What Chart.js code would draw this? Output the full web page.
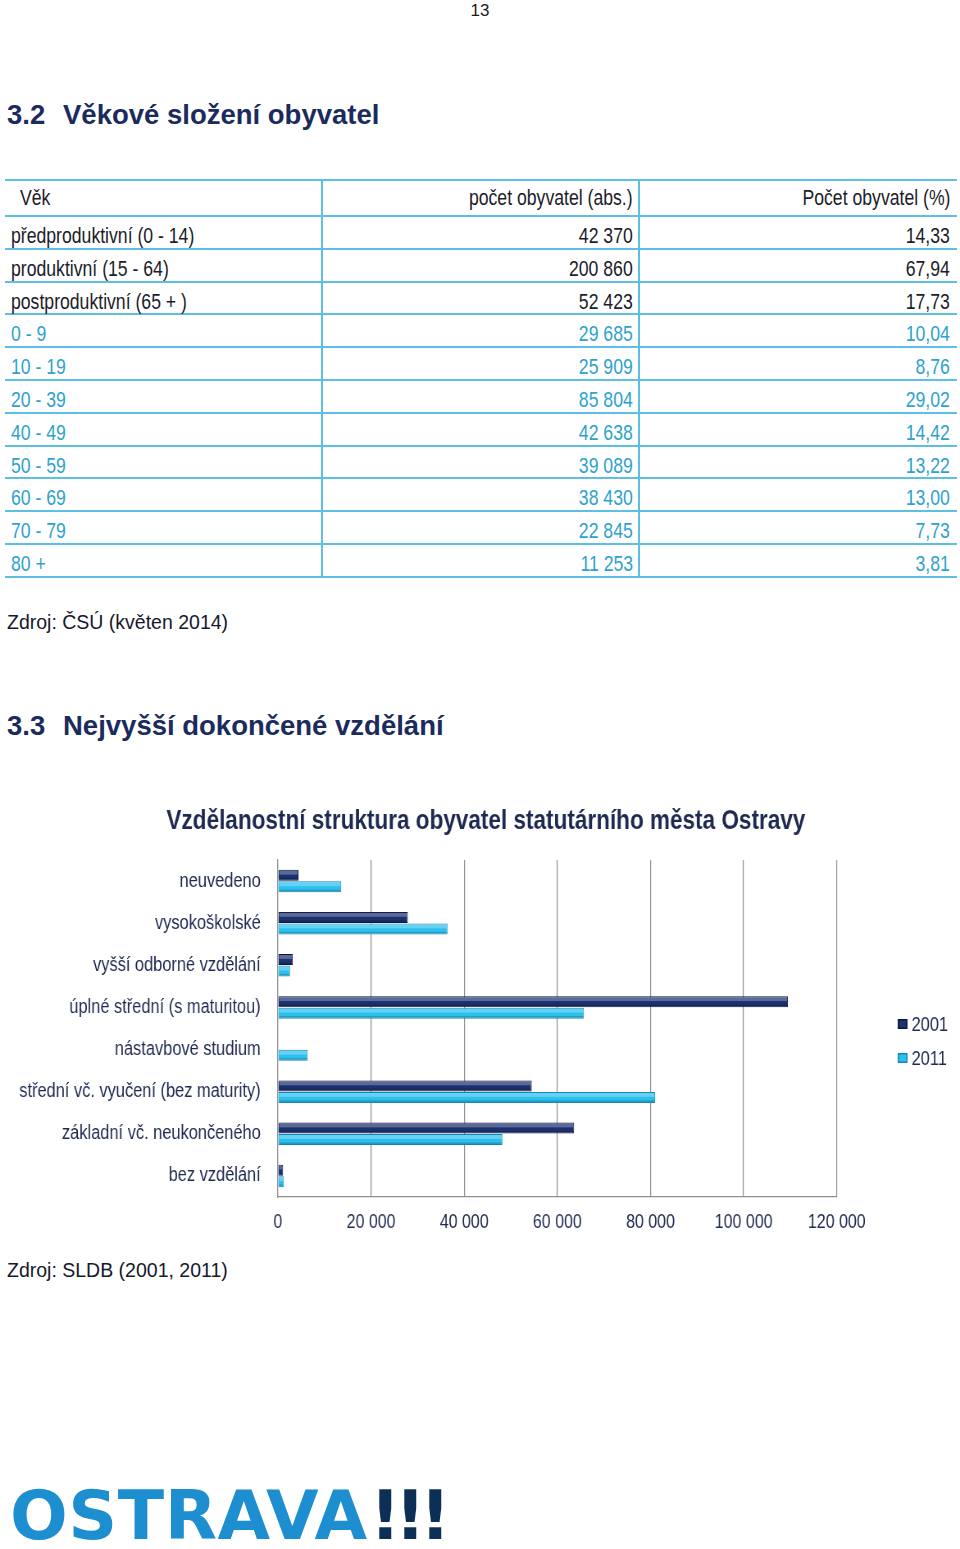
<!DOCTYPE html>
<html>
<head>
<meta charset="utf-8">
<script src="https://cdn.jsdelivr.net/npm/chart.js@4/dist/chart.umd.min.js"></script>
<style>
  html, body { margin:0; padding:0; background:#fff; }
  body { width:960px; height:1549px; position:relative; overflow:hidden; font-family:"Liberation Sans", Arial, sans-serif; }
  .abs { position:absolute; white-space:pre; }
  .pg { left:0; width:960px; top:0; text-align:center; font-size:17px; color:#1a1a1a; }
  .h { font-weight:bold; font-size:27.5px; color:#1b2b5e; line-height:32px; }
  .src { font-size:19.5px; color:#16182b; left:7px; line-height:24px; }
  .hl { position:absolute; left:5px; width:952px; height:2px; background:#5dbfe4; }
  .vl { position:absolute; top:180px; width:2px; height:398px; background:#5dbfe4; }
  .cell { position:absolute; font-size:21.5px; line-height:24px; white-space:pre; }
  .cl { transform:scaleX(0.82); transform-origin:left center; }
  .cr { transform:scaleX(0.82); transform-origin:right center; text-align:right; }
  #wrap { position:absolute; left:0; top:790px; width:1171px; height:460px; transform:scaleX(0.8198); transform-origin:0 0; }
  .logo { left:10px; top:1482px; font-family:"DejaVu Sans",sans-serif; font-weight:bold; font-size:68px; line-height:68px; letter-spacing:0.5px; color:#1d8fd0; }
  .logo span { color:#0c2f55; letter-spacing:-6px; margin-left:2px; }
</style>
</head>
<body>
<div class="abs pg" style="top:1px;">13</div>
<div class="abs h" style="top:99px; left:7px;">3.2</div>
<div class="abs h" style="top:99px; left:63px;">Věkové složení obyvatel</div>

<div id="tbl"></div>

<div class="abs src" style="top:610px;">Zdroj: ČSÚ (květen 2014)</div>
<div class="abs h" style="top:710px; left:7px;">3.3</div>
<div class="abs h" style="top:710px; left:63px;">Nejvyšší dokončené vzdělání</div>

<div id="wrap"><canvas id="c" width="1171" height="460"></canvas></div>

<div class="abs src" style="top:1258px;">Zdroj: SLDB (2001, 2011)</div>
<div class="abs logo">OSTRAVA<span>!!!</span></div>

<script>
// ---- table data ----
const tableHeader = ["Věk", "počet obyvatel (abs.)", "Počet obyvatel (%)"];
const ageGroups = ["předproduktivní (0 - 14)", "produktivní (15 - 64)", "postproduktivní (65 + )",
  "0 - 9", "10 - 19", "20 - 39", "40 - 49", "50 - 59", "60 - 69", "70 - 79", "80 +"];
const ageAbs = ["42 370", "200 860", "52 423", "29 685", "25 909", "85 804", "42 638", "39 089", "38 430", "22 845", "11 253"];
const agePct = ["14,33", "67,94", "17,73", "10,04", "8,76", "29,02", "14,42", "13,22", "13,00", "7,73", "3,81"];

// ---- chart data ----
const eduCategories = ["neuvedeno", "vysokoškolské", "vyšší odborné vzdělání", "úplné střední (s maturitou)",
  "nástavbové studium", "střední vč. vyučení (bez maturity)", "základní vč. neukončeného", "bez vzdělání"];
const edu2001 = [4400, 27900, 3200, 109500, null, 54500, 63600, 1100];
const edu2011 = [13600, 36400, 2600, 65700, 6400, 81000, 48200, 1300];
const seriesLabels = ["2001", "2011"];
const xTicks = [0, 20000, 40000, 60000, 80000, 100000, 120000];

// ---- build table ----
(function () {
  const t = document.getElementById('tbl');
  let h = '';
  const TOP = 180, HEAD = 36, ROW = 32.8;
  h += '<div class="hl" style="top:' + (TOP - 1) + 'px"></div>';
  for (let i = 0; i <= ageGroups.length; i++) h += '<div class="hl" style="top:' + (TOP + HEAD + i * ROW - 1) + 'px"></div>';
  h += '<div class="vl" style="left:321px"></div><div class="vl" style="left:638px"></div>';
  function row(cy, a, b, c, color, firstLeft) {
    const top = cy - 12;
    return '<div class="cell cl" style="top:' + top + 'px;left:' + firstLeft + 'px;color:' + color + '">' + a + '</div>' +
      '<div class="cell cr" style="top:' + top + 'px;right:' + (960 - 633) + 'px;color:' + color + '">' + b + '</div>' +
      '<div class="cell cr" style="top:' + top + 'px;right:' + (960 - 950) + 'px;color:' + color + '">' + c + '</div>';
  }
  h += row(TOP + 18, tableHeader[0], tableHeader[1], tableHeader[2], '#1c1c2a', 20);
  ageGroups.forEach((g, i) => {
    h += row(TOP + HEAD + i * ROW + 20, g, ageAbs[i], agePct[i], i >= 3 ? '#2ea2cf' : '#1c1c2a', 11);
  });
  t.innerHTML = h;
})();

const FONT = '"Liberation Sans", Arial, sans-serif';
const TXT = '#1f2a52';
const fmt = v => String(v).replace(/\B(?=(\d{3})+(?!\d))/g, ' ');

const bevel = {
  id: 'bevel',
  afterDatasetsDraw(chart) {
    const ctx = chart.ctx;
    chart.data.datasets.forEach((ds, di) => {
      const meta = chart.getDatasetMeta(di);
      meta.data.forEach(el => {
        if (el.skip) return;
        const p = el.getProps(['x', 'y', 'base', 'height'], true);
        const l = Math.min(p.base, p.x), r = Math.max(p.base, p.x);
        if (r - l < 2) return;
        const t = p.y - p.height / 2, h = p.height;
        ctx.save();
        ctx.fillStyle = 'rgba(255,255,255,0.28)';
        ctx.fillRect(l + 1, t + 1, r - l - 2, h * 0.35);
        ctx.fillStyle = 'rgba(0,0,0,0.18)';
        ctx.fillRect(l + 1, t + h * 0.75, r - l - 2, h * 0.25 - 1);
        ctx.restore();
      });
    });
  }
};

const legendPlugin = {
  id: 'sideLegend',
  afterDraw(chart) {
    const ctx = chart.ctx;
    ctx.save();
    ctx.font = '20px ' + FONT;
    ctx.textBaseline = 'middle';
    chart.data.datasets.forEach((ds, i) => {
      const cy = 234 + i * 34;
      ctx.fillStyle = ds.borderColor;
      ctx.fillRect(1095, cy - 5, 12, 10);
      ctx.fillStyle = ds.backgroundColor;
      ctx.fillRect(1096.5, cy - 3.5, 9, 7);
      ctx.fillStyle = TXT;
      ctx.fillText(ds.label, 1112, cy + 1);
    });
    ctx.restore();
  }
};

new Chart(document.getElementById('c'), {
  type: 'bar',
  data: {
    labels: eduCategories,
    datasets: [
      { label: seriesLabels[0], data: edu2001, backgroundColor: '#1d3170', borderColor: '#0d1840', borderWidth: 1 },
      { label: seriesLabels[1], data: edu2011, backgroundColor: '#2cc0ee', borderColor: '#1588b8', borderWidth: 1 }
    ]
  },
  options: {
    indexAxis: 'y',
    responsive: false,
    animation: false,
    devicePixelRatio: 1,
    layout: { padding: { left: 164.7, right: 150.3, top: 0, bottom: 0 } },
    categoryPercentage: 0.55,
    barPercentage: 0.95,
    plugins: {
      legend: { display: false },
      tooltip: { enabled: false },
      title: {
        display: true,
        text: 'Vzdělanostní struktura obyvatel statutárního města Ostravy',
        color: TXT,
        font: { family: FONT, size: 27.5, weight: 'bold', lineHeight: 1.2 },
        padding: { top: 14.5, bottom: 22.5 },
        align: 'center'
      }
    },
    scales: {
      x: {
        min: 0, max: 120000,
        afterBuildTicks(s) { s.ticks = xTicks.map(v => ({ value: v })); },
        afterFit(s) { s.height = 53; },
        grid: { color: '#8f8f8f', lineWidth: 1.2, drawTicks: false },
        border: { display: true, color: '#8f8f8f', width: 1.2 },
        ticks: { color: TXT, padding: 14, font: { family: FONT, size: 19.5 }, callback: v => fmt(v), maxRotation: 0 }
      },
      y: {
        afterFit(s) {
          s.width = 174.3;
          // let the long category names run past the left edge of the axis box
          s._computeLabelArea = () => undefined;
        },
        grid: { display: false, drawTicks: false },
        border: { display: true, color: '#8f8f8f', width: 1.2 },
        ticks: { color: TXT, padding: 21, font: { family: FONT, size: 20 } }
      }
    }
  },
  plugins: [bevel, legendPlugin]
});
</script>
</body>
</html>
